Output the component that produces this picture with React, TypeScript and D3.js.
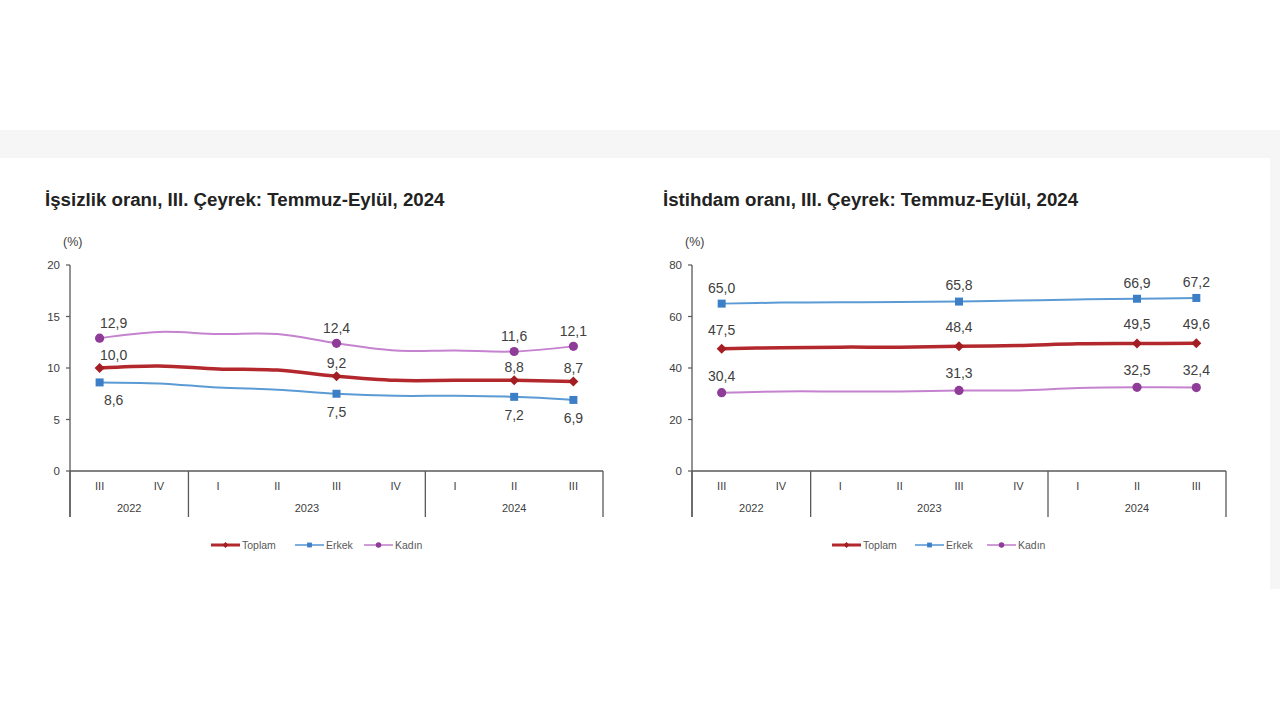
import React from 'react';
import * as d3 from 'd3';

const quarters = ["III", "IV", "I", "II", "III", "IV", "I", "II", "III"];
const years = ["2022", "2023", "2024"];
const yearSpans = [2, 4, 3];
const labeledIdx = [0, 4, 7, 8];
const seriesNames = ["Toplam", "Erkek", "Kadın"];

const unempToplam = [10.0, 10.2, 9.9, 9.8, 9.2, 8.8, 8.8, 8.8, 8.7];
const unempErkek = [8.6, 8.5, 8.1, 7.9, 7.5, 7.3, 7.3, 7.2, 6.9];
const unempKadin = [12.9, 13.5, 13.3, 13.3, 12.4, 11.7, 11.7, 11.6, 12.1];
const unempTicks = [0, 5, 10, 15, 20];

const empToplam = [47.5, 47.9, 48.1, 48.1, 48.4, 48.7, 49.4, 49.5, 49.6];
const empErkek = [65.0, 65.4, 65.5, 65.6, 65.8, 66.2, 66.6, 66.9, 67.2];
const empKadin = [30.4, 30.9, 30.9, 30.9, 31.3, 31.3, 32.2, 32.5, 32.4];
const empTicks = [0, 20, 40, 60, 80];

const FONT = "Arial, 'Liberation Sans', sans-serif";
const AXIS = "#595959";
const TEXT = "#404040";

const styles = [
  { line: "#b3282d", marker: "#a21e22", width: 3.5, shape: "diamond" },
  { line: "#5b9bd5", marker: "#3d7fc6", width: 2, shape: "square" },
  { line: "#c583cf", marker: "#8f3b98", width: 2, shape: "circle" },
];

const fmt = (v: number) => d3.format(".1f")(v).replace(".", ",");

function Marker({ shape, x, y, color, small }: any) {
  const k = small ? 0.6 : 1;
  if (shape === "diamond") {
    const s = d3.symbol(d3.symbolSquare, 50 * k * k)();
    return <path d={s || ""} transform={`translate(${x},${y}) rotate(45)`} fill={color} />;
  }
  if (shape === "square") {
    const s = d3.symbol(d3.symbolSquare, 64 * k * k)();
    return <path d={s || ""} transform={`translate(${x},${y})`} fill={color} />;
  }
  return <circle cx={x} cy={y} r={4.6 * k} fill={color} />;
}

function Chart({ title, titleX, axisX, axisEnd, yMax, ticks, data, labelDy, dx0, legendXs }: any) {
  const y = d3.scaleLinear().domain([0, yMax]).range([471, 265]);
  const x = d3.scaleBand<number>().domain(quarters.map((_, i) => i)).range([axisX, axisEnd]).padding(0);
  const cx = (i: number) => (x(i) as number) + x.bandwidth() / 2;
  const line = d3.line<number>().x((_, i) => cx(i)).y((d) => y(d)).curve(d3.curveCatmullRom.alpha(0.5));
  const bottom = 517;
  const seps: number[] = [0];
  yearSpans.reduce((acc, s) => { seps.push(acc + s); return acc + s; }, 0);
  return (
    <g fontFamily={FONT}>
      <text x={titleX} y={206} fontSize={18.7} fontWeight="bold" fill="#222">{title}</text>
      <text x={axisX - 7} y={242} dy="0.35em" fontSize={12.5} fill={TEXT}>(%)</text>
      {/* y axis */}
      <line x1={axisX} x2={axisX} y1={y(yMax)} y2={bottom} stroke={AXIS} strokeWidth={1.3} />
      {ticks.map((t: number) => (
        <g key={t}>
          <line x1={axisX - 4} x2={axisX} y1={y(t)} y2={y(t)} stroke={AXIS} strokeWidth={1.2} />
          <text x={axisX - 10} y={y(t)} dy="0.35em" textAnchor="end" fontSize={11.5} fill={TEXT}>{t}</text>
        </g>
      ))}
      {/* x axis */}
      <line x1={axisX} x2={axisEnd} y1={y(0)} y2={y(0)} stroke={AXIS} strokeWidth={1.3} />
      {seps.map((s, i) => {
        const xx = s === quarters.length ? axisEnd : (x(s) as number);
        return <line key={i} x1={xx} x2={xx} y1={y(0)} y2={bottom} stroke={AXIS} strokeWidth={1.3} />;
      })}
      {quarters.map((q, i) => (
        <text key={i} x={cx(i)} y={486} dy="0.35em" textAnchor="middle" fontSize={11} fill={TEXT}>{q}</text>
      ))}
      {years.map((yr, i) => {
        const a = seps[i], b = seps[i + 1];
        const xa = x(a) as number;
        const xb = b === quarters.length ? axisEnd : (x(b) as number);
        return <text key={yr} x={(xa + xb) / 2} y={508} dy="0.35em" textAnchor="middle" fontSize={11} fill={TEXT}>{yr}</text>;
      })}
      {/* series */}
      {data.map((vals: number[], si: number) => (
        <path key={si} d={line(vals) || ""} fill="none" stroke={styles[si].line} strokeWidth={styles[si].width} strokeLinejoin="round" />
      ))}
      {data.map((vals: number[], si: number) =>
        labeledIdx.map((i) => (
          <g key={`${si}-${i}`}>
            <Marker shape={styles[si].shape} x={cx(i)} y={y(vals[i])} color={styles[si].marker} />
            <text x={cx(i) + (i === 0 ? dx0 : 0)} y={y(vals[i]) + labelDy[si]} dy="0.35em" textAnchor="middle" fontSize={14} fill={TEXT}>{fmt(vals[i])}</text>
          </g>
        ))
      )}
      {/* legend */}
      {seriesNames.map((n, si) => {
        const lx = legendXs[si];
        return (
          <g key={n}>
            <line x1={lx} x2={lx + 29} y1={545} y2={545} stroke={styles[si].line} strokeWidth={si === 0 ? 3 : 1.6} />
            <Marker shape={styles[si].shape} x={lx + 14.5} y={545} color={styles[si].marker} small />
            <text x={lx + 31} y={545} dy="0.35em" fontSize={10.5} fill="#595959">{n}</text>
          </g>
        );
      })}
    </g>
  );
}

export default function App() {
  return (
    <svg width={1280} height={720} style={{ position: 'absolute', left: 0, top: 0, background: '#fff' }}>
      <rect x={0} y={0} width={1280} height={720} fill="#ffffff" />
      <rect x={0} y={130} width={1280} height={28} fill="#f6f6f6" />
      <rect x={1270} y={158} width={10} height={431} fill="#f6f6f6" />
      <Chart
        title="İşsizlik oranı, III. Çeyrek: Temmuz-Eylül, 2024"
        titleX={45}
        axisX={70}
        axisEnd={603}
        yMax={20}
        ticks={unempTicks}
        data={[unempToplam, unempErkek, unempKadin]}
        labelDy={[-13, 18, -15]}
        dx0={14}
        legendXs={[211, 295, 364]}
      />
      <Chart
        title="İstihdam oranı, III. Çeyrek: Temmuz-Eylül, 2024"
        titleX={663}
        axisX={692}
        axisEnd={1226}
        yMax={80}
        ticks={empTicks}
        data={[empToplam, empErkek, empKadin]}
        labelDy={[-19, -16, -17]}
        dx0={0}
        legendXs={[832, 915, 987]}
      />
    </svg>
  );
}
